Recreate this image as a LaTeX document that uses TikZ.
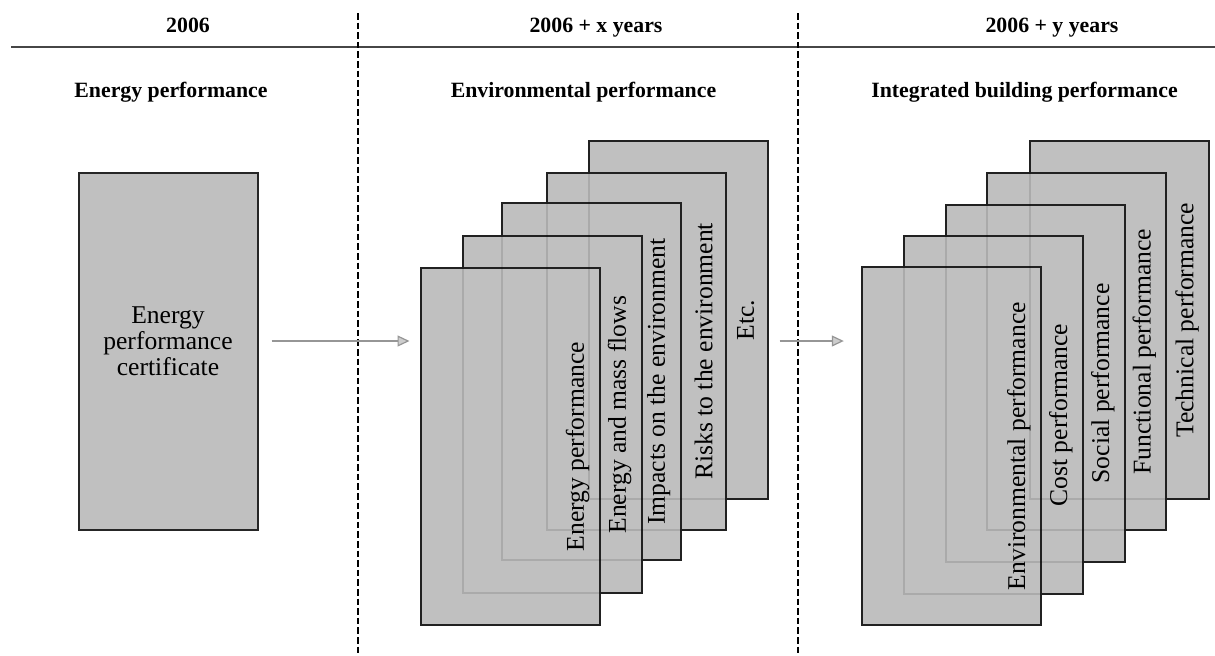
\documentclass[tikz,border=0pt]{standalone}
\usepackage{fontspec}
\setmainfont{Liberation Serif}
\usetikzlibrary{arrows.meta}
\definecolor{cardfill}{RGB}{192,192,192}
\definecolor{flowgray}{RGB}{150,150,150}
\definecolor{tipfill}{RGB}{205,205,205}
\definecolor{rulegray}{RGB}{70,70,70}
\begin{document}
\begin{tikzpicture}[x=0.5pt,y=-0.5pt,
  card/.style={draw=black!85, line width=1pt, fill=cardfill,
    minimum width=89.5pt, minimum height=178.75pt, inner sep=0pt, outer sep=0pt},
  ghost/.style={draw=black, draw opacity=0.11, line width=1pt},
  cardtext/.style={rotate=90, font=\fontsize{12.8}{13}\selectfont, inner sep=0pt},
  boxtext/.style={align=center, font=\fontsize{12.8}{13}\selectfont, inner sep=0pt},
  head/.style={font=\bfseries\fontsize{10.9}{13}\selectfont, anchor=base, inner sep=0pt},
  divider/.style={line width=0.9pt, dash pattern=on 3.3pt off 1.5pt},
  flow/.style={draw=flowgray, line width=1.4pt,
    -{Triangle[length=6pt,width=5.5pt,fill=tipfill,line width=0.6pt]}}
]
\useasboundingbox (0,0) rectangle (1215,655);

% header rule and period dividers
\coordinate (ruleL) at (11,47);
\coordinate (ruleR) at (1215,47);
\draw[rulegray, line width=1pt] (ruleL) -- (ruleR);
\coordinate (d1t) at (358,13);
\coordinate (d1b) at (358,655);
\coordinate (d2t) at (798,13);
\coordinate (d2b) at (798,655);
\draw[divider] (d1t) -- (d1b);
\draw[divider] (d2t) -- (d2b);

% period headings
\node[head] (h1) at (188,32) {2006};
\node[head] (h2) at (596,32) {2006 + x years};
\node[head] (h3) at (1052,32) {2006 + y years};
\node[head] (t1) at (171,97) {Energy performance};
\node[head] (t2) at (583.5,97) {Environmental performance};
\node[head] (t3) at (1024.5,97) {Integrated building performance};

% 2006: single certificate
\node[card] (ebox) at (168,351.3) {};
\node[boxtext] (etext) at ([yshift=5pt]ebox.center) {Energy\\performance\\certificate};

% environmental performance stack (back to front)
\node[card] (s1c5) at (678.2,319.9) {};
\node[card] (s1c4) at (636.2,351.3) {};
\node[card] (s1c3) at (591.2,381.7) {};
\node[card] (s1c2) at (552,414.7) {};
\node[card] (s1c1) at (510,446.5) {};

% integrated performance stack (back to front)
\node[card] (s2c5) at (1119.5,320.2) {};
\node[card] (s2c4) at (1076.8,351.7) {};
\node[card] (s2c3) at (1035.2,383.5) {};
\node[card] (s2c2) at (993.2,415) {};
\node[card] (s2c1) at (951.3,446.2) {};

% edges of the cards behind, seen through the front ones
\foreach \c in {s1c1,s1c2,s1c3,s1c4,s1c5,s2c1,s2c2,s2c3,s2c4,s2c5}
  \draw[ghost] (\c.south west) rectangle (\c.north east);

% card labels
\node[cardtext] (l11) at ([xshift=-11pt]s1c1.east) {Energy performance};
\node[cardtext] (l12) at ([xshift=-11pt]s1c2.east) {Energy and mass flows};
\node[cardtext] (l13) at ([xshift=-11pt]s1c3.east) {Impacts on the environment};
\node[cardtext] (l14) at ([xshift=-11pt]s1c4.east) {Risks to the environment};
\node[cardtext] (l15) at ([xshift=-11pt]s1c5.east) {Etc.};
\node[cardtext] (l21) at ([xshift=-11pt]s2c1.east) {Environmental performance};
\node[cardtext] (l22) at ([xshift=-11pt]s2c2.east) {Cost performance};
\node[cardtext] (l23) at ([xshift=-11pt]s2c3.east) {Social performance};
\node[cardtext] (l24) at ([xshift=-11pt]s2c4.east) {Functional performance};
\node[cardtext] (l25) at ([xshift=-11pt]s2c5.east) {Technical performance};

% transitions between periods
\draw[flow, shorten <=7pt, shorten >=5.5pt] (ebox.east |- 0,341) -- (s1c1.west |- 0,341);
\draw[flow, shorten <=6pt, shorten >=9pt] (s1c5.east |- 0,341) -- (s2c1.west |- 0,341);
\end{tikzpicture}
\end{document}
